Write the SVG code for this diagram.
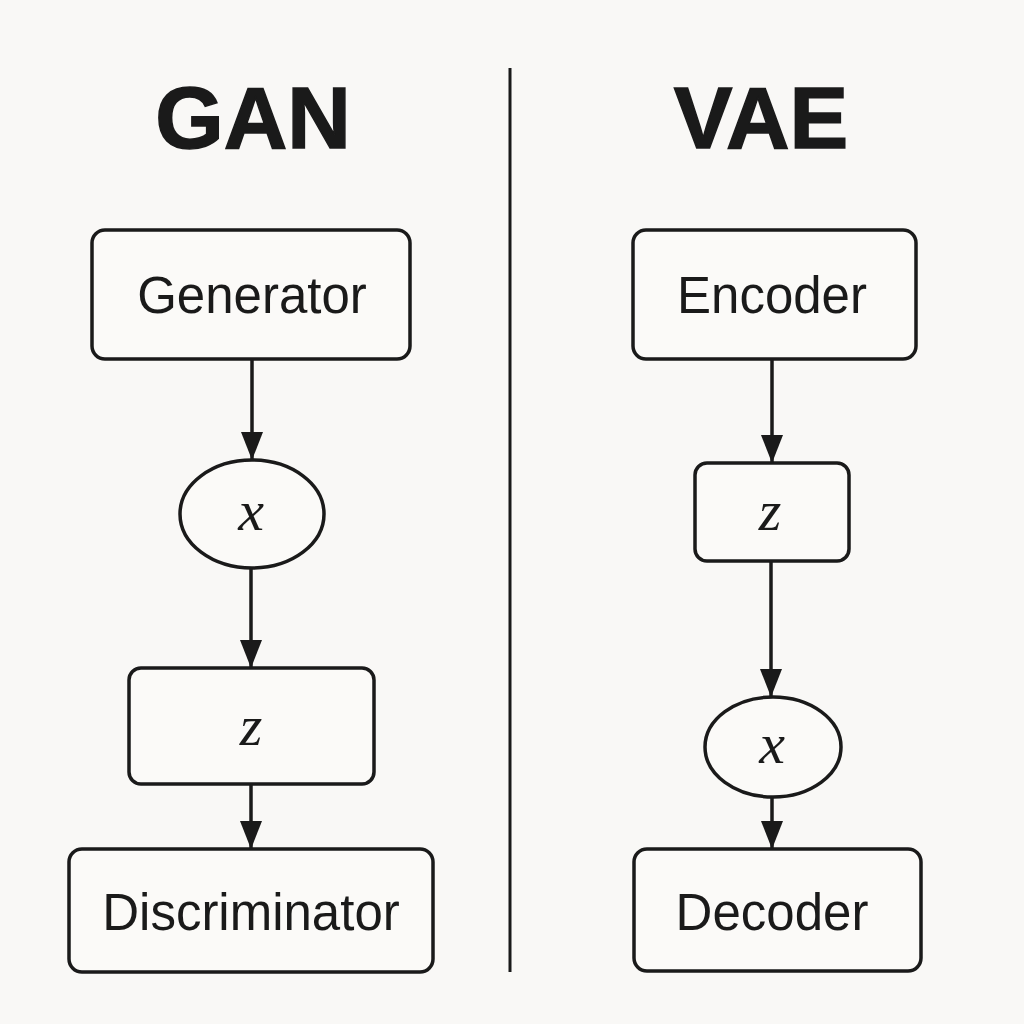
<svg xmlns="http://www.w3.org/2000/svg" width="1024" height="1024" viewBox="0 0 1024 1024">
<defs>
<marker id="arr" viewBox="0 0 28 22" refX="28" refY="11" markerWidth="28" markerHeight="22" markerUnits="userSpaceOnUse" orient="auto">
<path d="M0,0 L28,11 L0,22 z" fill="#1a1a1a"/>
</marker>
<style>
.box{fill:#fbfaf8;stroke:#1a1a1a;stroke-width:3.5}
.lbl{font-family:"Liberation Sans","Inter",sans-serif;font-size:51px;fill:#1a1a1a;text-anchor:middle}
.title{font-family:"Liberation Sans",sans-serif;font-weight:bold;font-size:88px;fill:#1a1a1a;text-anchor:middle;stroke:#1a1a1a;stroke-width:1.5}
.math{font-family:"Liberation Serif","DejaVu Serif",serif;font-style:italic;font-size:58px;fill:#1a1a1a;text-anchor:middle}
.edge{stroke:#1a1a1a;stroke-width:3.5;fill:none;marker-end:url(#arr)}
</style>
</defs>
<rect width="1024" height="1024" fill="#f9f8f6"/>
<text class="title" x="253" y="148">GAN</text>
<text class="title" x="761" y="148">VAE</text>
<line x1="510" y1="68" x2="510" y2="972" stroke="#1a1a1a" stroke-width="3"/>

<g id="generator"><rect class="box" x="92" y="230" width="318" height="129" rx="13"/><text class="lbl" x="252" y="313">Generator</text></g>
<g id="gan-x"><ellipse class="box" cx="252" cy="514" rx="72" ry="54"/><text class="math" x="251" y="530">x</text></g>
<g id="gan-z"><rect class="box" x="129" y="668" width="245" height="116" rx="12"/><text class="math" x="251" y="745">z</text></g>
<g id="discriminator"><rect class="box" x="69" y="849" width="364" height="123" rx="13"/><text class="lbl" x="251" y="930">Discriminator</text></g>

<g id="encoder"><rect class="box" x="633" y="230" width="283" height="129" rx="13"/><text class="lbl" x="772" y="313">Encoder</text></g>
<g id="vae-z"><rect class="box" x="695" y="463" width="154" height="98" rx="12"/><text class="math" x="770" y="530">z</text></g>
<g id="vae-x"><ellipse class="box" cx="773" cy="747" rx="68" ry="50"/><text class="math" x="772" y="763">x</text></g>
<g id="decoder"><rect class="box" x="634" y="849" width="287" height="122" rx="13"/><text class="lbl" x="772" y="930">Decoder</text></g>

<g id="connectors">
<line class="edge" x1="252" y1="360" x2="252" y2="460"/>
<line class="edge" x1="251" y1="568" x2="251" y2="668"/>
<line class="edge" x1="251" y1="785" x2="251" y2="849"/>
<line class="edge" x1="772" y1="360" x2="772" y2="463"/>
<line class="edge" x1="771" y1="562" x2="771" y2="697"/>
<line class="edge" x1="772" y1="797" x2="772" y2="849"/>
</g>
</svg>
